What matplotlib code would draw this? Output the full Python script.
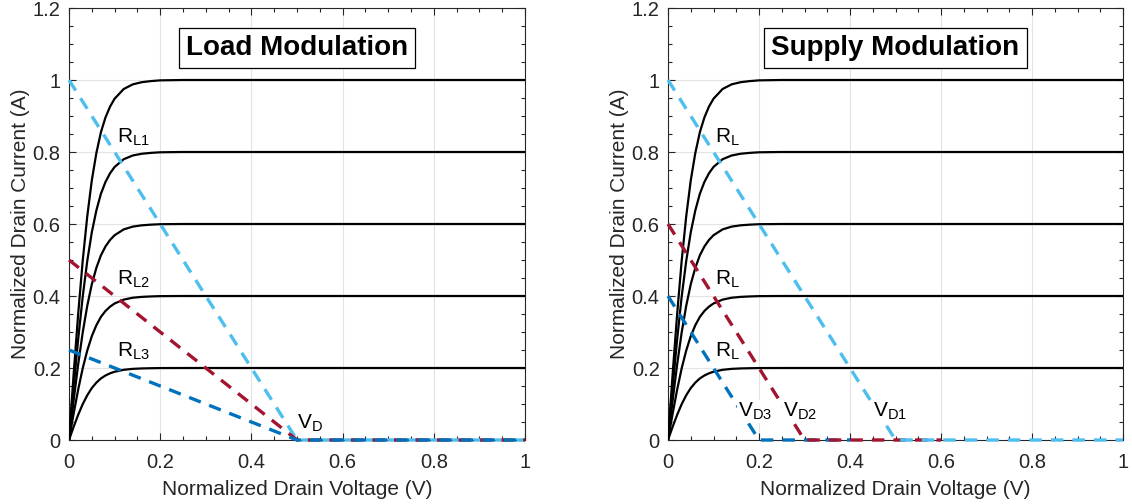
import matplotlib
matplotlib.use("Agg")
import numpy as np
import matplotlib.pyplot as plt
from matplotlib.ticker import MultipleLocator

plt.rcParams["font.family"] = ["Liberation Sans", "DejaVu Sans"]
plt.rcParams["mathtext.fontset"] = "custom"
plt.rcParams["mathtext.rm"] = "Liberation Sans"
plt.rcParams["mathtext.it"] = "Liberation Sans"
plt.rcParams["lines.scale_dashes"] = False

# normalized knee shape of the I-V curves (V, I/Imax)
KNEE_V = [0.0, 0.01, 0.02, 0.03, 0.04, 0.05, 0.06, 0.07, 0.08, 0.09,
          0.10, 0.12, 0.14, 0.16, 0.18, 0.20, 0.25, 1.0]
KNEE_I = [0.0, 0.180, 0.348, 0.497, 0.621, 0.721, 0.797, 0.855, 0.896, 0.926,
          0.948, 0.975, 0.988, 0.994, 0.997, 0.999, 1.0, 1.0]
GATE_LEVELS = [0.2, 0.4, 0.6, 0.8, 1.0]

# load lines: start current at V=0 and the drain voltage where they reach 0
LOAD_I0 = [1.0, 0.5, 0.25]
LOAD_VD = [0.5, 0.5, 0.5]
SUPPLY_I0 = [0.4, 0.6, 1.0]
SUPPLY_VD = [0.2, 0.3, 0.5]

X_TICKS = [0, 0.2, 0.4, 0.6, 0.8, 1.0]
X_TICK_LABELS = ["0", "0.2", "0.4", "0.6", "0.8", "1"]
Y_TICKS = [0, 0.2, 0.4, 0.6, 0.8, 1.0, 1.2]
Y_TICK_LABELS = ["0", "0.2", "0.4", "0.6", "0.8", "1", "1.2"]

LIGHT_BLUE = "#4DBEEE"
RED = "#A2142F"
DARK_BLUE = "#0072BD"
LOAD_COLORS = [LIGHT_BLUE, RED, DARK_BLUE]
SUPPLY_COLORS = [DARK_BLUE, RED, LIGHT_BLUE]

AX_COLOR = "#262626"


def style_axes(ax):
    ax.set_xlim(0, 1)
    ax.set_ylim(0, 1.2)
    ax.set_xticks(X_TICKS)
    ax.set_xticklabels(X_TICK_LABELS)
    ax.set_yticks(Y_TICKS)
    ax.set_yticklabels(Y_TICK_LABELS)
    ax.xaxis.set_minor_locator(MultipleLocator(0.05))
    ax.yaxis.set_minor_locator(MultipleLocator(0.05))
    ax.tick_params(which="both", direction="in", top=True, right=True,
                   colors=AX_COLOR, labelsize=14.5, width=0.8)
    ax.tick_params(which="major", length=5)
    ax.tick_params(which="minor", length=3)
    ax.tick_params(axis="x", which="major", pad=9)
    ax.tick_params(axis="y", which="major", pad=6)
    for s in ax.spines.values():
        s.set_color(AX_COLOR)
        s.set_linewidth(0.8)
    ax.grid(True, which="major", color="#e3e3e3", linewidth=0.8)
    ax.set_axisbelow(True)
    ax.set_xlabel("Normalized Drain Voltage (V)", fontsize=15, color=AX_COLOR,
                  labelpad=6)
    ax.set_ylabel("Normalized Drain Current (A)", fontsize=15, color=AX_COLOR,
                  labelpad=2)


def draw_curves(ax):
    v = np.array(KNEE_V)
    shape = np.array(KNEE_I)
    for lvl in GATE_LEVELS:
        ax.plot(v, lvl * shape, color="black", lw=1.6, zorder=3)


def draw_load_lines(ax, i0s, vds, colors):
    for i0, vd, c in zip(i0s, vds, colors):
        ax.plot([0, vd, 2 * vd], [i0, 0, 0], color=c, lw=2.4,
                dashes=(9, 6.5), zorder=4, clip_on=False)


def title_box(ax, txt):
    ax.text(0.5, 1.089, txt, ha="center", va="center", fontsize=20,
            fontweight="bold", color="black", zorder=6,
            bbox=dict(boxstyle="square,pad=0.25", fc="white", ec="black",
                      lw=0.9))


fig = plt.figure(figsize=(11.32, 5.04), dpi=100)
ax1 = fig.add_axes([69 / 1132, 64 / 504, 456 / 1132, 432 / 504])
ax2 = fig.add_axes([668 / 1132, 64 / 504, 455 / 1132, 432 / 504])

lbl_kw = dict(fontsize=15, color="black", ha="left", va="center", zorder=5)
vd_kw = dict(fontsize=15, color="black", ha="left", va="center", zorder=5,
             bbox=dict(boxstyle="square,pad=0.05", fc="white", ec="none"))

# Load modulation
style_axes(ax1)
draw_curves(ax1)
draw_load_lines(ax1, LOAD_I0, LOAD_VD, LOAD_COLORS)
ax1.text(0.105, 0.84, r"R$_{\mathrm{L1}}$", **lbl_kw)
ax1.text(0.105, 0.445, r"R$_{\mathrm{L2}}$", **lbl_kw)
ax1.text(0.105, 0.245, r"R$_{\mathrm{L3}}$", **lbl_kw)
ax1.text(0.50, 0.045, r"V$_{\mathrm{D}}$", **lbl_kw)
title_box(ax1, "Load Modulation")

# Supply modulation
style_axes(ax2)
draw_curves(ax2)
draw_load_lines(ax2, SUPPLY_I0, SUPPLY_VD, SUPPLY_COLORS)
ax2.text(0.103, 0.84, r"R$_{\mathrm{L}}$", **lbl_kw)
ax2.text(0.103, 0.445, r"R$_{\mathrm{L}}$", **lbl_kw)
ax2.text(0.103, 0.245, r"R$_{\mathrm{L}}$", **lbl_kw)
ax2.text(0.153, 0.08, r"V$_{\mathrm{D3}}$", **vd_kw)
ax2.text(0.252, 0.08, r"V$_{\mathrm{D2}}$", **vd_kw)
ax2.text(0.450, 0.08, r"V$_{\mathrm{D1}}$", **vd_kw)
title_box(ax2, "Supply Modulation")

fig.savefig("out.png", dpi=100)
